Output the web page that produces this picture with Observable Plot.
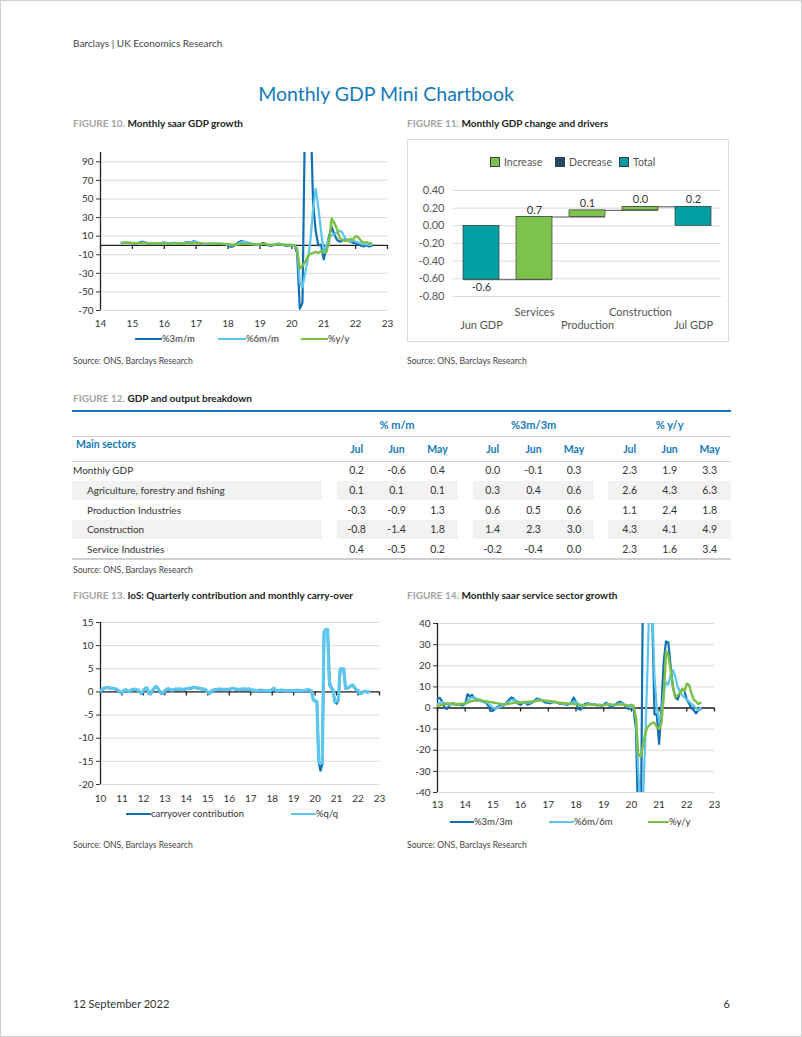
<!DOCTYPE html>
<html><head><meta charset="utf-8">
<script src="https://cdn.jsdelivr.net/npm/d3@7"></script>
<script src="https://cdn.jsdelivr.net/npm/@observablehq/plot@0.6"></script>
<style>
html,body{margin:0;padding:0;background:#fff;}
#page{position:relative;width:802px;height:1037px;box-sizing:border-box;border:1px solid #d0d0d0;font-family:Lato,"Noto Sans",sans-serif;color:#333;overflow:hidden;background:#fff;}
.abs{position:absolute;white-space:nowrap;line-height:1;}
</style></head><body><div id="page"></div>
<script>
// ---------------- DATA ----------------
// Figure 10: monthly saar GDP growth, Sep 2014 – Jul 2022
const f10XTicks = [2014,2015,2016,2017,2018,2019,2020,2021,2022,2023];
const f10YTicks = [-70,-50,-30,-10,10,30,50,70,90];
const f10Start = [2014, 9];
const f10_3m = [
  2.5, 2.8, 3.0, 2.6,
  2.2, 2.0, 2.4, 3.5, 4.0, 2.8, 2.0, 1.8, 1.5, 1.8, 2.0, 2.5,
  3.2, 2.5, 2.0, 2.4, 2.8, 2.0, 1.5, 2.2, 3.0, 3.6, 2.8, 4.5,
  4.0, 2.5, 1.5, 1.2, 1.6, 1.8, 1.8, 2.0, 1.6, 1.8, 1.5, 1.2,
  0.5, -1.5, -0.8, 1.5, 3.5, 4.8, 4.0, 3.0, 2.2, 1.5, 0.8, 0.3,
  1.2, 2.5, 2.0, 0.2, -0.5, 0.2, 1.5, 2.0, 1.2, 0.2, -0.5, -0.2,
  0.2, -0.5, -8, -68, -62, 150, 200, 150, 45, 15, 0, 1,
  -15, -3, 10, 20, 12, 6, 4, 5, 7, 6, 4, 3,
  2, 1, 0, -1, 0, -1, -0.5
];
const f10_6m = [
  2.5, 2.6, 2.8, 2.7,
  2.5, 2.3, 2.3, 2.8, 3.2, 3.0, 2.5, 2.2, 1.8, 1.8, 2.0, 2.2,
  2.6, 2.4, 2.2, 2.2, 2.5, 2.3, 1.9, 2.0, 2.5, 3.0, 3.0, 3.5,
  3.5, 2.8, 2.0, 1.6, 1.6, 1.6, 1.7, 1.8, 1.7, 1.7, 1.6, 1.4,
  0.9, 0.0, 0.2, 1.0, 2.2, 3.5, 3.8, 3.5, 2.8, 2.0, 1.4, 0.8,
  1.0, 1.8, 1.8, 1.0, 0.5, 0.4, 1.0, 1.5, 1.4, 0.8, 0.2, 0.0,
  0.1, -0.2, -3, -40, -45, -30, -15, 5, 40, 61, 40, 15,
  -6, 0, 8, 11, 12, 14, 16, 14, 8, 5, 4, 5,
  4, 3, 2, 1, 1, 0.5, 0.5
];
const f10_yy = [
  3.0, 3.0, 2.9, 2.8,
  2.7, 2.6, 2.5, 2.5, 2.5, 2.4, 2.3, 2.2, 2.2, 2.1, 2.1, 2.0,
  2.0, 2.0, 1.9, 1.9, 2.0, 2.1, 2.1, 2.1, 2.2, 2.3, 2.4, 2.5,
  2.5, 2.4, 2.3, 2.1, 2.0, 1.9, 1.9, 1.8, 1.8, 1.7, 1.7, 1.6,
  1.3, 1.0, 0.8, 1.0, 1.2, 1.4, 1.5, 1.5, 1.4, 1.3, 1.2, 1.0,
  1.1, 1.6, 1.8, 1.2, 0.8, 0.9, 1.2, 1.1, 1.0, 0.9, 0.8, 0.7,
  0.5, 0.0, -5, -25, -22, -18, -12, -9, -8, -7, -8, -6,
  -8, -7, 3, 29, 24, 18, 8, 6, 5, 5, 7, 6,
  10, 9, 5, 3, 3.5, 2.5, 2
];
const f10Legend = ["%3m/m", "%6m/m", "%y/y"];

// Figure 11: waterfall
const wfCats = ["Jun GDP", "Services", "Production", "Construction", "Jul GDP"];
const wfValues = [-0.61, 0.71, 0.075, 0.04, 0.215];
const wfKinds = ["Total", "Increase", "Increase", "Increase", "Total"];
const wfLegend = ["Increase", "Decrease", "Total"];
const wfYTicks = [-0.8, -0.6, -0.4, -0.2, 0, 0.2, 0.4];

// Figure 12: table
const tblGroups = ["% m/m", "%3m/3m", "% y/y"];
const tblMonths = ["Jul", "Jun", "May"];
const tblRows = ["Monthly GDP", "Agriculture, forestry and fishing", "Production Industries", "Construction", "Service Industries"];
const tblMoM = [[0.2, -0.6, 0.4], [0.1, 0.1, 0.1], [-0.3, -0.9, 1.3], [-0.8, -1.4, 1.8], [0.4, -0.5, 0.2]];
const tbl3m3m = [[0.0, -0.1, 0.3], [0.3, 0.4, 0.6], [0.6, 0.5, 0.6], [1.4, 2.3, 3.0], [-0.2, -0.4, 0.0]];
const tblYoY = [[2.3, 1.9, 3.3], [2.6, 4.3, 6.3], [1.1, 2.4, 1.8], [4.3, 4.1, 4.9], [2.3, 1.6, 3.4]];

// Figure 13: IoS quarterly contribution and carry-over, Jan 2010 – Jul 2022
const f13XTicks = [2010,2011,2012,2013,2014,2015,2016,2017,2018,2019,2020,2021,2022,2023];
const f13YTicks = [-20,-15,-10,-5,0,5,10,15];
const f13Start = [2010, 1];
const f13Carry = [
  0.1, 0.5, 0.7, 0.9, 0.9, 0.8, 0.8, 0.7, 0.6, 0.5, 0.2, -0.1,
  -0.3, 0.2, 0.4, 0.1, 0.0, 0.3, 0.4, 0.5, 0.4, 0.3, -0.1, -0.4,
  0.2, 0.7, 0.8, -0.3, -0.5, 0.2, 0.7, 1.1, 0.8, 0.1, -0.4, -0.3,
  0.2, 0.5, 0.6, 0.4, 0.3, 0.4, 0.5, 0.5, 0.6, 0.5, 0.4, 0.5,
  0.6, 0.7, 0.7, 0.8, 0.9, 0.9, 0.8, 0.7, 0.6, 0.6, 0.5, 0.3,
  -0.2, -0.4, 0.1, 0.3, 0.4, 0.4, 0.5, 0.5, 0.4, 0.5, 0.4, 0.4,
  0.5, 0.6, 0.7, 0.6, 0.5, 0.4, 0.5, 0.5, 0.6, 0.5, 0.5, 0.6,
  0.4, 0.3, 0.3, 0.2, 0.2, 0.3, 0.3, 0.2, 0.2, 0.1, 0.2, 0.1,
  0.5, 0.7, 0.3, 0.1, 0.2, 0.3, 0.3, 0.2, 0.2, 0.2, 0.2, 0.1,
  0.2, 0.2, 0.3, 0.2, 0.2, 0.1, 0.2, 0.3, 0.4, 0.3, 0.1, -1.5,
  -2.0, -2.2, -15, -17, -15.5, 13, 13.2, 13.3, 1.5, 0.8, 0.3, -2.0,
  -2.5, -1.8, 4.8, 4.9, 4.8, 0.7, 0.8, 0.9, 1.3, 1.4, 0.9, 0.4,
  0.2, -0.4, -0.3, 0.0, 0.1, 0.0, 0.0
];
const f13QQ = [
  0.2, 0.6, 0.8, 0.9, 1.0, 0.9, 0.8, 0.8, 0.7, 0.6, 0.3, 0.0,
  -0.2, 0.3, 0.5, 0.2, 0.1, 0.4, 0.5, 0.6, 0.5, 0.4, 0.0, -0.3,
  0.3, 0.8, 0.9, -0.2, -0.4, 0.3, 0.8, 1.2, 0.9, 0.2, -0.3, -0.2,
  0.3, 0.6, 0.7, 0.5, 0.4, 0.5, 0.6, 0.6, 0.7, 0.6, 0.5, 0.6,
  0.7, 0.8, 0.8, 0.9, 1.0, 1.0, 0.9, 0.8, 0.7, 0.7, 0.6, 0.4,
  -0.1, -0.3, 0.2, 0.4, 0.5, 0.5, 0.6, 0.6, 0.5, 0.6, 0.5, 0.5,
  0.6, 0.7, 0.8, 0.7, 0.6, 0.5, 0.6, 0.6, 0.7, 0.6, 0.6, 0.7,
  0.5, 0.4, 0.4, 0.3, 0.3, 0.4, 0.4, 0.3, 0.3, 0.2, 0.3, 0.2,
  0.6, 0.8, 0.4, 0.2, 0.3, 0.4, 0.4, 0.3, 0.3, 0.3, 0.3, 0.2,
  0.3, 0.3, 0.4, 0.3, 0.3, 0.2, 0.3, 0.4, 0.5, 0.4, 0.2, -1.8,
  -2.0, -2.0, -15, -15.5, -15, 13, 13.5, 13.5, 2, 1, 0.5, -2.2,
  -2.0, -1.5, 5, 5, 5, 0.8, 0.9, 1.0, 1.4, 1.5, 1.0, 0.5,
  0.3, -0.3, -0.3, 0.1, 0.1, 0.0, 0.0
];
const f13Legend = ["carryover contribution", "%q/q"];

// Figure 14: monthly saar service sector growth, Jan 2013 – Jul 2022
const f14XTicks = [2013,2014,2015,2016,2017,2018,2019,2020,2021,2022,2023];
const f14YTicks = [-40,-30,-20,-10,0,10,20,30,40];
const f14Start = [2013, 1];
const f14_3m = [
  4.5, 4.8, 3.0, 0.5, -0.5, 1.0, 2.0, 2.2, 1.5, 1.8, 1.5, 1.2,
  2.0, 6.5, 5.5, 6.2, 4.5, 3.5, 3.8, 3.2, 3.0, 2.5, 1.0, -1.5,
  -1.2, -0.5, 0.5, 1.0, 0.8, 1.5, 2.5, 4.0, 5.0, 4.5, 3.0, 2.0,
  1.5, 2.5, 3.0, 1.5, 2.0, 2.5, 3.5, 4.5, 4.2, 3.8, 3.0, 2.5,
  2.5, 2.2, 2.8, 3.0, 2.5, 2.0, 2.2, 1.8, 1.5, 1.8, 2.5, 5.0,
  3.0, -0.5, -0.8, 1.0, 2.0, 2.2, 2.0, 1.5, 1.8, 1.2, 1.5, 1.0,
  1.5, 2.5, 1.8, 0.5, 1.0, 1.5, 2.5, 3.0, 2.5, 1.5, 0.0, -0.5,
  0.5, -1.0, -10, -60, -75, 60, 200, 150, 100, 45, -3, -3,
  -17, 0, 22, 31.5, 31, 20, 10, 5, 4, 7, 9, 8,
  4, 2, 0, -1, -2.5, -1, -0.5
];
const f14_6m = [
  2.0, 2.5, 2.8, 2.5, 2.0, 1.5, 1.5, 1.8, 2.0, 2.0, 1.8, 1.8,
  2.2, 3.5, 4.5, 5.0, 4.8, 4.5, 4.0, 3.5, 3.2, 2.8, 2.0, 1.0,
  0.2, -0.3, 0.0, 0.5, 1.0, 1.5, 2.0, 3.0, 3.8, 4.0, 3.5, 3.0,
  2.5, 2.5, 2.8, 2.5, 2.5, 2.8, 3.2, 3.8, 4.0, 3.8, 3.5, 3.2,
  3.0, 2.8, 2.7, 2.8, 2.6, 2.3, 2.2, 2.0, 1.8, 1.8, 2.2, 3.0,
  3.0, 2.0, 1.0, 0.8, 1.2, 1.8, 2.0, 1.8, 1.6, 1.5, 1.4, 1.2,
  1.3, 1.8, 1.8, 1.5, 1.2, 1.3, 1.8, 2.2, 2.2, 1.8, 1.0, 0.5,
  0.5, 0.0, -5, -30, -50, -45, -15, 20, 60, 50, 15, 0,
  -6, -3, 8, 12, 11, 16, 18, 15, 10, 8, 6, 5,
  4, 3, 2, 1, 0, -1, 0
];
const f14_yy = [
  1.0, 1.2, 1.5, 1.8, 2.0, 2.0, 2.2, 2.0, 1.8, 1.8, 2.0, 2.0,
  2.2, 2.5, 3.0, 3.3, 3.5, 3.8, 3.8, 3.6, 3.4, 3.2, 3.0, 2.8,
  2.6, 2.4, 2.2, 2.0, 1.8, 1.8, 1.9, 2.0, 2.2, 2.5, 2.6, 2.6,
  2.6, 2.7, 2.8, 2.9, 3.0, 3.1, 3.2, 3.4, 3.5, 3.6, 3.5, 3.4,
  3.3, 3.2, 3.0, 2.8, 2.6, 2.5, 2.4, 2.3, 2.2, 2.0, 2.0, 1.9,
  1.8, 1.6, 1.4, 1.4, 1.5, 1.6, 1.7, 1.6, 1.6, 1.5, 1.5, 1.5,
  1.5, 1.6, 1.8, 1.7, 1.5, 1.6, 1.7, 1.8, 1.6, 1.4, 1.2, 1.2,
  1.5, 1.0, -5, -22, -23, -18, -12, -9, -8, -7, -7, -9,
  -10, -7, 5, 27, 25, 18, 10, 5, 6, 7, 9, 8,
  11.5, 11, 7, 4, 3, 2, 2.5
];
const f14Legend = ["%3m/3m", "%6m/6m", "%y/y"];

// ---------------- STYLE ----------------
const DARK = "#1170b4", LIGHT = "#5cc6ef", GREEN = "#7bbf45";
const WF_GREEN = "#7cc24d", WF_NAVY = "#1b4a6b", WF_TEAL = "#00a0a2";
const BLUE = "#1479b8";
const FONT = "Lato, 'Noto Sans', sans-serif";

const page = document.getElementById("page");
function txt(str, x, y, o = {}) {
  const d = document.createElement("div");
  d.className = "abs";
  d.textContent = str;
  d.style.left = x + "px"; d.style.top = y + "px";
  const ax = o.anchor === "middle" ? "-50%" : o.anchor === "end" ? "-100%" : "0";
  d.style.transform = `translate(${ax},-50%)`;
  d.style.fontSize = (o.size || 10) + "px";
  if (o.color) d.style.color = o.color;
  if (o.weight) d.style.fontWeight = o.weight;
  page.appendChild(d);
  return d;
}
function box(x, y, w, h, bg, border) {
  const d = document.createElement("div");
  d.style.position = "absolute";
  d.style.left = x + "px"; d.style.top = y + "px";
  d.style.width = w + "px"; d.style.height = h + "px";
  if (bg) d.style.background = bg;
  if (border) { d.style.border = border; d.style.boxSizing = "border-box"; }
  page.appendChild(d);
  return d;
}
function figTitle(num, title, x, y) {
  const d = txt("", x, y, {size: 10});
  d.innerHTML = `<span style="color:#a3a3a3;font-weight:700">FIGURE ${num}.</span> <span style="color:#222;font-weight:700">${title}</span>`;
}
function place(el, x, y) {
  el.style.position = "absolute"; el.style.left = x + "px"; el.style.top = y + "px";
  page.appendChild(el);
}
function legendLine(x1, x2, y, color, label) {
  box(x1, y - 1.25, x2 - x1, 2.5, color);
  txt(label, x2, y, {size: 9.5, color: "#333"});
}
function monthly(start, values) {
  return values.map((v, i) => ({t: start[0] + (start[1] - 1 + i) / 12, v}));
}

function lineChart(cfg) {
  const [mt, mr, mb, ml] = cfg.margin;
  return Plot.plot({
    width: cfg.width, height: cfg.height,
    marginTop: mt, marginRight: mr, marginBottom: mb, marginLeft: ml,
    style: {fontFamily: FONT, fontSize: "10px", color: "#333", background: "transparent", overflow: "visible"},
    x: {domain: cfg.xDomain, label: null},
    y: {domain: cfg.yDomain, label: null},
    marks: [
      Plot.gridY(cfg.yTicks, {stroke: "#d9d9d9", strokeOpacity: 1, strokeWidth: 1}),
      Plot.axisY({ticks: cfg.yTicks, tickSize: 4, tickPadding: 3, tickFormat: d => String(d), label: null}),
      Plot.axisX({ticks: cfg.xTicks, tickSize: 0, tickPadding: cfg.xPad, tickFormat: d => String(d).slice(2), label: null}),
      Plot.ruleX([cfg.xDomain[0]], {stroke: "#222", strokeWidth: 1.3}),
      Plot.ruleY([0], {stroke: "#222", strokeWidth: 1.3}),
      Plot.ruleX(cfg.xTicks, {x: d => d, y1: 0, y2: 0, insetTop: 0, insetBottom: -4, stroke: "#222", strokeWidth: 1.3}),
      ...cfg.series.map(s => Plot.line(s.data, {x: "t", y: "v", stroke: s.color, strokeWidth: s.width, clip: true, strokeLinejoin: "round"}))
    ]
  });
}

// ---------------- PAGE TEXT ----------------
txt("Barclays | UK Economics Research", 72, 42, {size: 10, color: "#444"});
txt("Monthly GDP Mini Chartbook", 385, 93, {size: 19.5, color: BLUE, anchor: "middle"});
txt("12 September 2022", 72, 1002, {size: 11, color: "#333"});
txt("6", 729, 1002, {size: 11, color: "#333", anchor: "end"});

// ---------------- FIGURE 10 ----------------
figTitle(10, "Monthly saar GDP growth", 72, 122);
const fig10 = lineChart({
  width: 340, height: 200, margin: [11, 14, 31, 39], xPad: 9,
  xDomain: [2014, 2023], yDomain: [-70, 100], xTicks: f10XTicks, yTicks: f10YTicks,
  series: [
    {data: monthly(f10Start, f10_3m), color: DARK, width: 2.2},
    {data: monthly(f10Start, f10_6m), color: LIGHT, width: 2.2},
    {data: monthly(f10Start, f10_yy), color: GREEN, width: 2.4}
  ]
});
place(fig10, 60, 140);
legendLine(134, 161, 338, DARK, f10Legend[0]);
legendLine(217, 245, 338, LIGHT, f10Legend[1]);
legendLine(300, 327, 338, GREEN, f10Legend[2]);
txt("Source: ONS, Barclays Research", 72, 360, {size: 8.6, color: "#444"});

// ---------------- FIGURE 11 ----------------
figTitle(11, "Monthly GDP change and drivers", 406, 122);
box(406, 138, 322, 203, "#fff", "1px solid #dcdcdc");
const wfRows = [];
let cum = 0;
wfCats.forEach((c, i) => {
  const v = wfValues[i], kind = wfKinds[i];
  let y1, y2;
  if (kind === "Total") { y1 = 0; y2 = v; cum = v; }
  else { y1 = cum; y2 = cum + v; cum = y2; }
  wfRows.push({cat: c, kind, y1, y2, v, end: cum});
});
const wfLinks = wfRows.slice(0, -1).map((r, i) => ({from: r.cat, to: wfRows[i + 1].cat, level: r.end}));
const fig11 = Plot.plot({
  width: 322, height: 203, marginLeft: 46, marginRight: 8, marginTop: 51, marginBottom: 46,
  style: {fontFamily: FONT, fontSize: "11px", color: "#555", background: "transparent", overflow: "visible"},
  x: {domain: wfCats, paddingInner: 0.32, paddingOuter: 0.16, axis: null, label: null},
  y: {domain: [-0.8, 0.4], label: null},
  color: {domain: wfLegend, range: [WF_GREEN, WF_NAVY, WF_TEAL]},
  marks: [
    Plot.gridY(wfYTicks, {stroke: "#d9d9d9", strokeOpacity: 1}),
    Plot.axisY({ticks: wfYTicks, tickSize: 0, tickPadding: 9, tickFormat: d => d.toFixed(2), label: null}),
    Plot.ruleY(wfLinks, {y: "level", x1: "from", x2: "to", stroke: "#555", strokeWidth: 1}),
    Plot.barY(wfRows, {x: "cat", y1: "y1", y2: "y2", fill: "kind", stroke: "#3a3a3a", strokeWidth: 0.7}),
    Plot.text(wfRows.filter(d => d.v >= 0), {x: "cat", y: d => Math.max(d.y1, d.y2), text: d => d.v.toFixed(1), dy: -7, fontSize: 11, fill: "#333"}),
    Plot.text(wfRows.filter(d => d.v < 0), {x: "cat", y: d => Math.min(d.y1, d.y2), text: d => d.v.toFixed(1), dy: 8, fontSize: 11, fill: "#333"}),
    Plot.text(wfCats.filter((d, i) => i % 2 === 1), {x: d => d, y: -0.8, dy: 16, text: d => d, fontSize: 11, fill: "#555"}),
    Plot.text(wfCats.filter((d, i) => i % 2 === 0), {x: d => d, y: -0.8, dy: 29, text: d => d, fontSize: 11, fill: "#555"})
  ]
});
place(fig11, 406, 138);
// legend
const wfLegColors = [WF_GREEN, WF_NAVY, WF_TEAL];
const wfLegX = [489, 554, 618];
wfLegend.forEach((k, i) => {
  box(wfLegX[i], 156, 10, 10, wfLegColors[i], "1px solid #3a3a3a");
  txt(k, wfLegX[i] + 14, 161, {size: 10.5, color: "#555"});
});
txt("Source: ONS, Barclays Research", 406, 360, {size: 8.6, color: "#444"});

// ---------------- FIGURE 12 (table) ----------------
figTitle(12, "GDP and output breakdown", 72, 397);
const colX = [[355.6, 395.6, 436.5], [491.7, 532.6, 573], [628.7, 668.7, 708.7]];
const groupX = [396, 532.6, 668.7];
const rowY = [469.3, 489, 509, 528.3, 547.7];
const shadeSegs = [[71, 321], [336, 457], [472, 593], [607, 730]];
box(71, 409, 659, 2, BLUE);
tblGroups.forEach((g, i) => txt(g, groupX[i], 423, {size: 11, color: BLUE, weight: 700, anchor: "middle"}));
box(71, 435, 659, 1, "#cfcfcf");
txt("Main sectors", 75, 443, {size: 10.5, color: BLUE, weight: 700});
colX.forEach(cols => cols.forEach((cx, j) => txt(tblMonths[j], cx, 447.5, {size: 10.5, color: BLUE, weight: 700, anchor: "middle"})));
box(71, 459.5, 659, 1, "#cfcfcf");
tblRows.forEach((r, i) => {
  if (i % 2 === 1) shadeSegs.forEach(([a, b]) => box(a, rowY[i] - 9.5, b - a, 19, "#f2f2f2"));
});
const tblData = [tblMoM, tbl3m3m, tblYoY];
tblRows.forEach((r, i) => {
  txt(r, i === 0 ? 72 : 86, rowY[i], {size: 10, color: "#333"});
  tblData.forEach((block, g) => block[i].forEach((v, j) => txt(v.toFixed(1), colX[g][j], rowY[i], {size: 10.5, color: "#333", anchor: "middle"})));
});
box(71, 557, 659, 1.5, "#cfcfcf");
txt("Source: ONS, Barclays Research", 72, 569, {size: 8.6, color: "#444"});

// ---------------- FIGURE 13 ----------------
figTitle(13, "IoS: Quarterly contribution and monthly carry-over", 72, 594);
const fig13 = lineChart({
  width: 340, height: 200, margin: [16, 22, 22, 39], xPad: 10,
  xDomain: [2010, 2023], yDomain: [-20, 15], xTicks: f13XTicks, yTicks: f13YTicks,
  series: [
    {data: monthly(f13Start, f13Carry), color: DARK, width: 2.4},
    {data: monthly(f13Start, f13QQ), color: LIGHT, width: 3.2}
  ]
});
place(fig13, 60, 605);
legendLine(125, 150, 813, DARK, f13Legend[0]);
legendLine(290, 315, 813, LIGHT, f13Legend[1]);
txt("Source: ONS, Barclays Research", 72, 844, {size: 8.6, color: "#444"});

// ---------------- FIGURE 14 ----------------
figTitle(14, "Monthly saar service sector growth", 406, 594);
const fig14 = lineChart({
  width: 340, height: 215, margin: [17, 27, 29, 36], xPad: 8,
  xDomain: [2013, 2023], yDomain: [-40, 40], xTicks: f14XTicks, yTicks: f14YTicks,
  series: [
    {data: monthly(f14Start, f14_3m), color: DARK, width: 2.2},
    {data: monthly(f14Start, f14_6m), color: LIGHT, width: 2.2},
    {data: monthly(f14Start, f14_yy), color: GREEN, width: 2.4}
  ]
});
place(fig14, 400, 605);
legendLine(449, 473, 821, DARK, f14Legend[0]);
legendLine(548, 573, 821, LIGHT, f14Legend[1]);
legendLine(647, 668, 821, GREEN, f14Legend[2]);
txt("Source: ONS, Barclays Research", 406, 844, {size: 8.6, color: "#444"});
</script></body></html>
